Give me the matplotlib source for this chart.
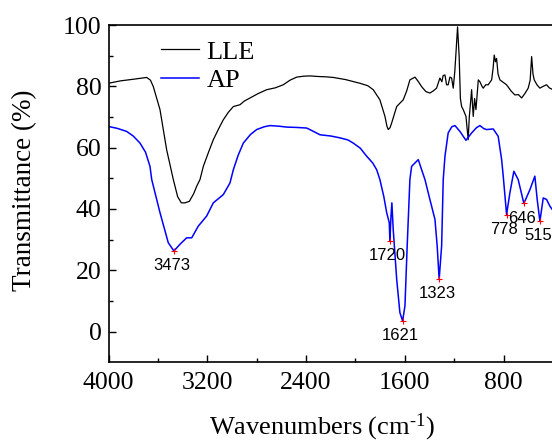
import matplotlib
matplotlib.use("Agg")
import matplotlib.pyplot as plt
import numpy as np

plt.rcParams['font.family'] = ['Liberation Serif', 'DejaVu Serif']
plt.rcParams['mathtext.fontset'] = 'custom'
plt.rcParams['mathtext.rm'] = 'Liberation Serif'
plt.rcParams['mathtext.it'] = 'Liberation Serif:italic'

# LLE spectrum
lle_x = [4000, 3900, 3800, 3691, 3660, 3637, 3583, 3529, 3475, 3440, 3410, 3381,
         3345, 3310, 3286, 3259, 3232, 3190, 3151, 3110, 3070, 3030, 2989, 2935,
         2900, 2854, 2790, 2719, 2650, 2585, 2530, 2476, 2420, 2368, 2300, 2240,
         2180, 2080, 1964, 1900, 1856, 1802, 1761, 1745, 1734, 1720, 1707, 1666,
         1640, 1613, 1585, 1559, 1518, 1490, 1464, 1430, 1397, 1370, 1343, 1316,
         1300, 1290, 1275, 1262, 1249, 1235, 1221, 1208, 1195, 1186, 1173, 1160,
         1150, 1140, 1127, 1105, 1095, 1087, 1078, 1065, 1059, 1052, 1046, 1035,
         1024, 1005, 992, 975, 965, 945, 925, 897, 885, 876, 866, 857, 845, 830,
         776, 740, 709, 680, 654, 630, 601, 585, 573, 562, 552, 530, 506, 480,
         452, 430, 400]
lle_y = [81.0, 81.8, 82.3, 82.9, 82.0, 79.9, 72.4, 59.3, 49.6, 44.0, 42.0, 42.0,
         42.5, 45.0, 47.4, 49.6, 53.9, 58.5, 62.6, 66.0, 69.1, 71.5, 73.4, 74.0,
         75.2, 76.2, 77.6, 78.9, 79.5, 80.5, 82.0, 83.0, 83.3, 83.4, 83.2, 83.1,
         82.9, 82.2, 81.0, 80.2, 78.9, 75.6, 70.2, 67.0, 65.9, 66.5, 68.0, 73.4,
         74.5, 75.6, 78.5, 82.1, 83.0, 81.5, 79.9, 78.3, 77.8, 78.5, 79.4, 82.7,
         81.5, 83.5, 83.7, 80.5, 80.5, 83.0, 82.7, 79.4, 85.0, 90.8, 99.4, 89.7,
         76.0, 73.4, 72.4, 70.2, 66.0, 62.6, 70.0, 76.0, 78.9, 74.0, 70.2, 76.0,
         72.4, 82.1, 81.5, 80.0, 79.4, 80.5, 80.5, 82.1, 86.0, 90.2, 88.0, 89.1,
         84.0, 82.1, 80.5, 78.5, 77.2, 77.3, 76.2, 77.5, 79.4, 82.0, 89.7, 84.0,
         82.1, 80.5, 79.4, 80.0, 80.5, 79.5, 78.9]

# AP spectrum
ap_x = [4000, 3930, 3853, 3800, 3745, 3700, 3664, 3650, 3583, 3516, 3470, 3421,
        3367, 3326, 3273, 3205, 3151, 3070, 3016, 2989, 2950, 2908, 2850, 2800,
        2740, 2692, 2620, 2557, 2480, 2395, 2340, 2287, 2200, 2126, 2060, 2018,
        1960, 1909, 1860, 1828, 1802, 1770, 1747, 1726, 1721, 1712, 1705, 1694,
        1666, 1640, 1618, 1599, 1581, 1559, 1545, 1518, 1491, 1464, 1437, 1397,
        1356, 1338, 1322, 1302, 1289, 1275, 1249, 1220, 1194, 1154, 1105, 1059,
        1020, 992, 960, 938, 884, 844, 816, 803, 776, 749, 717, 682, 636, 587,
        547, 528, 506, 479, 452, 425, 400]
ap_y = [66.9, 66.3, 65.3, 63.8, 61.5, 58.5, 53.9, 49.6, 38.8, 29.0, 26.3, 28.5,
        30.6, 30.6, 34.4, 37.7, 42.0, 44.7, 48.5, 52.8, 57.5, 61.5, 64.3, 65.9,
        66.8, 67.2, 67.0, 66.7, 66.6, 66.4, 65.3, 64.2, 63.8, 63.2, 62.5, 61.5,
        59.8, 57.2, 55.0, 52.8, 49.6, 44.0, 38.8, 35.5, 29.5, 37.7, 42.0, 33.3,
        17.1, 6.2, 3.5, 8.4, 27.9, 49.6, 53.9, 55.0, 56.1, 52.8, 49.6, 43.1,
        36.6, 27.9, 17.1, 27.9, 49.6, 57.2, 64.8, 66.8, 67.2, 65.3, 62.4, 64.8,
        66.5, 67.2, 66.2, 65.9, 66.1, 63.7, 56.1, 50.7, 38.2, 45.3, 52.3, 49.6,
        41.8, 46.3, 50.7, 43.1, 36.0, 43.6, 43.1, 40.9, 39.5]

# marked peaks
peak_x = [3470, 1721, 1618, 1322, 776, 636, 506]
peak_y = [26.3, 29.5, 3.5, 17.1, 38.2, 41.8, 36.0]
peak_labels = ['3473', '1720', '1621', '1323', '778', '646', '515']

fig = plt.figure(figsize=(5.52, 4.40), dpi=100)
ax = fig.add_axes([108.5 / 552, 77.7 / 440, 444.5 / 552, 337.3 / 440])

ax.plot(lle_x, lle_y, color='black', lw=0.9, label='LLE')
ax.plot(ap_x, ap_y, color='#0000ff', lw=1.1, label='AP')
ax.plot(peak_x, peak_y, '+', color='red', ms=5, mew=0.8)

for x, y, s in zip(peak_x, peak_y, peak_labels):
    ax.annotate(s, (x, y), xytext=(-1.5, -10.5), textcoords='offset points',
                ha='center', va='center', fontsize=12, family='Liberation Sans')

ax.set_xlim(4000, 400)
ax.set_ylim(-10, 100)
ax.set_xticks([4000, 3200, 2400, 1600, 800])
ax.set_xticks(np.arange(3600, 0, -800), minor=True)
ax.set_yticks([0, 20, 40, 60, 80, 100])
ax.set_yticks([10, 30, 50, 70, 90], minor=True)
ax.tick_params(which='both', direction='in', labelsize=18.5, width=1.0)
ax.tick_params(which='major', length=5)
ax.tick_params(which='minor', length=3)
ax.tick_params(axis='x', pad=7)
ax.tick_params(axis='y', pad=5)
for sp in ax.spines.values():
    sp.set_linewidth(1.2)

ax.set_xlabel(r'Wavenumbers (cm$^{\text{-1}}$)', fontsize=19)
ax.set_ylabel('Transmittance (%)', fontsize=19.5)
ax.xaxis.set_label_coords(0.48, -0.146)
ax.yaxis.set_label_coords(-0.16, 0.51)

ax.legend(loc='upper left', bbox_to_anchor=(0.117, 0.955), frameon=False,
          fontsize=19, handlelength=1.45, handletextpad=0.3,
          labelspacing=0.2, borderpad=0, borderaxespad=0)

fig.savefig('out.png', dpi=100)
